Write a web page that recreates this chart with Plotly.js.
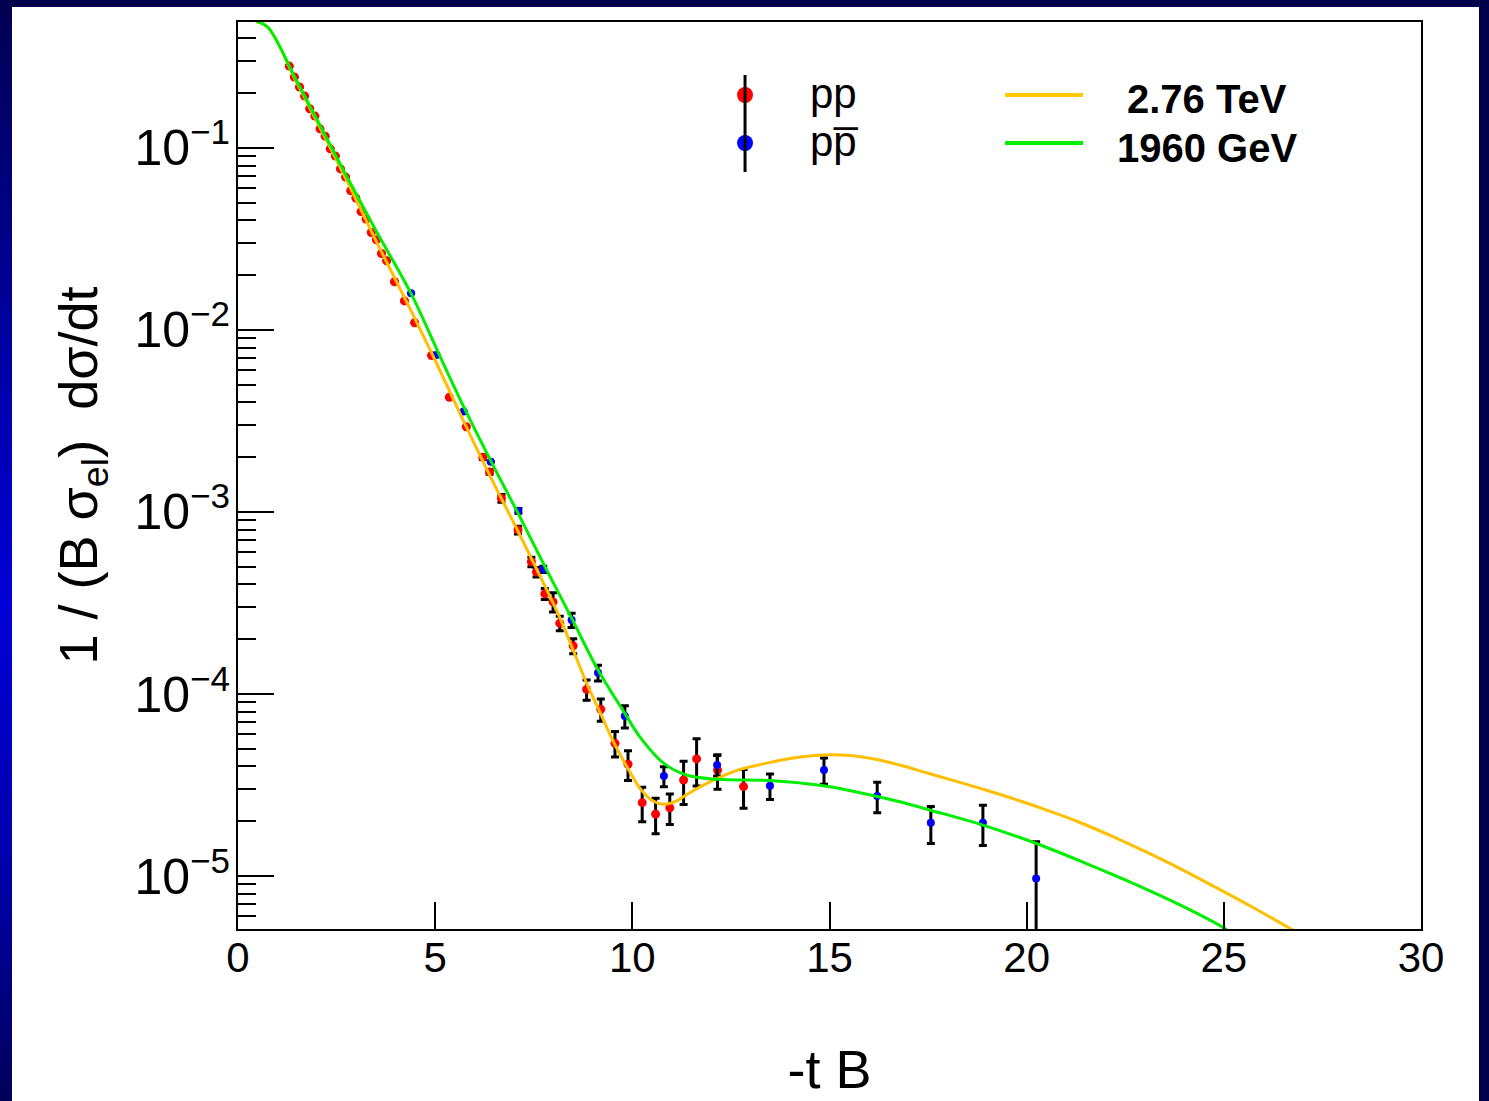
<!DOCTYPE html>
<html>
<head>
<meta charset="utf-8">
<script src="https://cdn.plot.ly/plotly-3.0.1.min.js"></script>
<style>
  html, body { margin: 0; padding: 0; width: 1489px; height: 1101px; overflow: hidden; }
  body { background: #00004a; position: relative; }
  #leftstrip { position: absolute; left: 0; top: 0; width: 12px; height: 1101px;
    background: linear-gradient(to bottom, #000050 0%, #0000a0 30%, #0000d8 55%, #0000a8 80%, #000058 100%); }
  #plot { position: absolute; left: 12px; top: 7px; width: 1467px; height: 1094px; background: #ffffff; }
</style>
</head>
<body>
<div id="leftstrip"></div>
<div id="plot"></div>
<script>
// pp data at 2.76 TeV (red)
const ppX = [1.30,1.43,1.56,1.69,1.82,1.95,2.08,2.21,2.34,2.47,2.60,2.73,2.86,2.99,3.12,3.25,3.38,3.51,3.64,3.77,3.97,4.22,4.48,
             4.91,5.36,5.79,6.21,6.38,6.68,7.10,7.44,7.57,7.78,7.99,8.16,8.50,8.84,9.20,9.56,9.89,10.25,10.59,10.95,11.30,11.63,12.16,12.82];
const ppY = [0.2818,0.2455,0.2163,0.1928,0.1641,0.1496,0.1274,0.1161,0.0989,0.0902,0.0767,0.0692,0.0582,0.0531,0.0447,0.0407,0.0343,0.0313,0.0263,0.0240,0.0184,0.01445,0.01096,
             0.00724,0.00427,0.00294,0.00200,0.00166,0.00119,7.96e-4,5.33e-4,4.68e-4,3.55e-4,3.21e-4,2.45e-4,1.84e-4,1.06e-4,8.24e-5,5.36e-5,4.11e-5,2.53e-5,2.19e-5,2.37e-5,3.37e-5,4.40e-5,3.82e-5,3.10e-5];
// relative errors; null = bar hidden under the marker
const ppRelErr = [null,null,null,null,null,null,null,null,null,null,null,null,null,null,null,null,null,null,null,null,null,null,null,
             null,null,null,0.03,0.03,0.05,0.05,0.06,0.06,0.07,0.12,0.09,0.095,0.127,0.14,0.16,0.186,0.215,0.22,0.19,0.266,0.29,0.215,0.24];

// p-pbar data at 1960 GeV (blue)
const pbX = [4.39,5.03,5.72,6.41,7.11,7.74,8.46,9.13,9.81,10.80,12.15,13.49,14.86,16.21,17.57,18.89,20.24];
const pbY = [0.01592,0.00729,0.00356,0.00189,0.001016,4.84e-4,2.55e-4,1.31e-4,7.57e-5,3.54e-5,4.07e-5,3.13e-5,3.82e-5,2.75e-5,1.96e-5,1.96e-5,9.70e-6];
const pbRelErr = [null,null,null,null,0.03,0.04,0.09,0.10,0.14,0.127,0.13,0.16,0.165,0.19,0.23,0.25,0.59];

// model curve 2.76 TeV (orange)
const c276X = [0.47,0.756,1.5,2.67,3.5,4.39,5.05,5.72,6.41,7.11,7.67,8.16,8.50,8.84,9.18,9.56,9.89,10.2,10.5,10.79,11.1,11.4,11.8,12.3,12.8,13.3,14.0,14.8,15.5,16.2,16.78,17.5,18.22,19.0,19.8,20.6,21.4,22.2,23.0,23.9,24.82,25.8,26.75];
const c276Y = [0.4955,0.4603,0.2265,0.0724,0.0309,0.01274,0.00646,0.00316,0.00155,7.76e-4,4.40e-4,2.63e-4,1.74e-4,1.148e-4,7.94e-5,5.25e-5,3.89e-5,3.02e-5,2.60e-5,2.48e-5,2.57e-5,2.82e-5,3.16e-5,3.55e-5,3.89e-5,4.12e-5,4.42e-5,4.62e-5,4.60e-5,4.37e-5,4.07e-5,3.67e-5,3.31e-5,2.95e-5,2.60e-5,2.265e-5,1.95e-5,1.641e-5,1.365e-5,1.096e-5,8.61e-6,6.61e-6,5.05e-6];

// model curve 1960 GeV (green)
const c1960X = [0.47,0.756,1.5,2.67,3.5,4.39,5.05,5.72,6.41,7.11,7.76,8.46,9.13,9.81,10.19,10.80,11.37,12.15,13.57,14.85,15.77,16.78,17.56,18.89,20.23,21.5,22.7,23.9,25.0,25.1];
const c1960Y = [0.4955,0.4603,0.2312,0.0757,0.0351,0.01585,0.00776,0.00380,0.00191,9.77e-4,5.13e-4,2.61e-4,1.355e-4,7.83e-5,5.82e-5,4.16e-5,3.59e-5,3.40e-5,3.34e-5,3.13e-5,2.87e-5,2.56e-5,2.30e-5,1.905e-5,1.514e-5,1.175e-5,9.12e-6,6.92e-6,5.19e-6,5.01e-6];

// legend texts
const legendLabels = ['pp', 'pp\u0305', '<b>2.76 TeV</b>', '<b>1960 GeV</b>'];

const FONT = 'Liberation Sans, Arial, Helvetica, sans-serif';

const errBar = (ys, rel) => ys.map((v, i) => (rel[i] === null ? null : v * rel[i]));

const traces = [
  {
    type: 'scatter', mode: 'markers', x: ppX, y: ppY, name: 'pp',
    marker: { color: '#ff0000', size: 9 },
    error_y: { type: 'data', array: errBar(ppY, ppRelErr), symmetric: true, color: '#000000', thickness: 3, width: 4 }
  },
  {
    type: 'scatter', mode: 'markers', x: pbX, y: pbY, name: 'ppbar',
    marker: { color: '#0000ff', size: 8 },
    error_y: { type: 'data', array: errBar(pbY, pbRelErr), symmetric: true, color: '#000000', thickness: 3, width: 4 }
  },
  {
    type: 'scatter', mode: 'lines', x: c276X, y: c276Y, name: '2.76 TeV',
    line: { color: '#ffbf00', width: 3, shape: 'spline', smoothing: 1 }
  },
  {
    type: 'scatter', mode: 'lines', x: c1960X, y: c1960Y, name: '1960 GeV',
    line: { color: '#00ee00', width: 3, shape: 'spline', smoothing: 1 }
  }
];

// legend geometry (paper coords of plot area)
const legMarkX = 0.4286, legRow1 = 0.9195, legRow2 = 0.8666;
const legLineX0 = 0.6484, legLineX1 = 0.7143;

const shapes = [
  { type: 'circle', xref: 'paper', yref: 'paper', xsizemode: 'pixel', ysizemode: 'pixel',
    xanchor: legMarkX, yanchor: legRow1, x0: -8, x1: 8, y0: -8, y1: 8, fillcolor: '#ff0000', line: { width: 0 } },
  { type: 'circle', xref: 'paper', yref: 'paper', xsizemode: 'pixel', ysizemode: 'pixel',
    xanchor: legMarkX, yanchor: legRow2, x0: -8, x1: 8, y0: -8, y1: 8, fillcolor: '#0000ff', line: { width: 0 } },
  { type: 'line', xref: 'paper', yref: 'paper', x0: legMarkX, x1: legMarkX, y0: 0.8346, y1: 0.9416,
    line: { color: '#000000', width: 3 } },
  { type: 'line', xref: 'paper', yref: 'paper', x0: legLineX0, x1: legLineX1, y0: legRow1, y1: legRow1,
    line: { color: '#ffc800', width: 4 } },
  { type: 'line', xref: 'paper', yref: 'paper', x0: legLineX0, x1: legLineX1, y0: legRow2, y1: legRow2,
    line: { color: '#00ee00', width: 4 } }
];

const annotations = [
  { text: legendLabels[0], xref: 'paper', yref: 'paper', x: 0.4818, y: legRow1 + 0.002, xanchor: 'left', yanchor: 'middle',
    showarrow: false, font: { family: FONT, size: 42, color: '#000000' } },
  { text: legendLabels[1], xref: 'paper', yref: 'paper', x: 0.4818, y: legRow2 + 0.002, xanchor: 'left', yanchor: 'middle',
    showarrow: false, font: { family: FONT, size: 42, color: '#000000' } },
  { text: legendLabels[2], xref: 'paper', yref: 'paper', x: 0.8191, y: legRow1 - 0.004, xanchor: 'center', yanchor: 'middle',
    showarrow: false, font: { family: FONT, size: 40, color: '#000000' } },
  { text: legendLabels[3], xref: 'paper', yref: 'paper', x: 0.8191, y: legRow2 - 0.006, xanchor: 'center', yanchor: 'middle',
    showarrow: false, font: { family: FONT, size: 40, color: '#000000' } }
];

const layout = {
  width: 1467, height: 1094,
  margin: { l: 226, r: 58, t: 15, b: 172, pad: 0 },
  paper_bgcolor: '#ffffff', plot_bgcolor: '#ffffff',
  showlegend: false,
  font: { family: FONT, color: '#000000', size: 40 },
  xaxis: {
    range: [0, 30], dtick: 5, tick0: 0,
    ticks: 'inside', ticklen: 27, tickwidth: 2, tickcolor: '#000000',
    showline: true, linewidth: 2, linecolor: '#000000', mirror: true,
    showgrid: false, zeroline: false,
    tickfont: { family: FONT, size: 42, color: '#000000' },
    ticklabelstandoff: -9,
    title: { text: '-t B', font: { family: FONT, size: 54, color: '#000000' }, standoff: 70 }
  },
  yaxis: {
    type: 'log', range: [-5.291, -0.308], dtick: 1,
    exponentformat: 'power', showexponent: 'all',
    ticks: 'inside', ticklen: 36, tickwidth: 2, tickcolor: '#000000',
    minor: { ticks: 'inside', ticklen: 18, tickwidth: 2, tickcolor: '#000000', dtick: 'D1', showgrid: false },
    showline: true, linewidth: 2, linecolor: '#000000', mirror: true,
    showgrid: false, zeroline: false,
    tickfont: { family: FONT, size: 40, color: '#000000' },
    ticklabelstandoff: -2,
    title: { text: '1 / (B σ<sub>el</sub>)\u00a0\u00a0dσ/dt', font: { family: FONT, size: 54, color: '#000000' }, standoff: 20 }
  },
  shapes: shapes,
  annotations: annotations
};

Plotly.newPlot('plot', traces, layout, { staticPlot: true, displayModeBar: false });
</script>
</body>
</html>
